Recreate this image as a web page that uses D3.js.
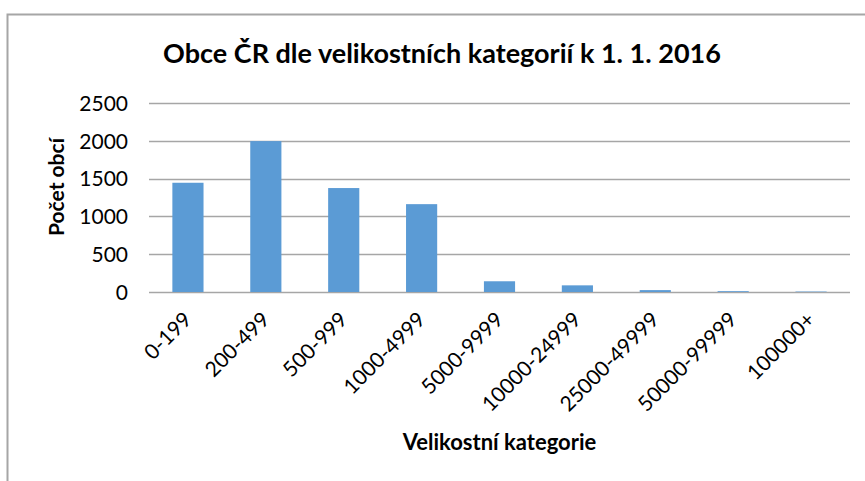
<!DOCTYPE html>
<html lang="cs">
<head>
<meta charset="UTF-8">
<title>Obce ČR</title>
<script src="https://d3js.org/d3.v7.min.js"></script>
<style>
  body { margin: 0; background: #fff; }
  text { font-family: Lato, Calibri, "Noto Sans", sans-serif; fill: #000; }
</style>
</head>
<body>
<svg id="main" width="865" height="481"></svg>
<script>
const categories = ['0-199', '200-499', '500-999', '1000-4999', '5000-9999',
  '10000-24999', '25000-49999', '50000-99999', '100000+'];
const counts = [1445, 1996, 1375, 1162, 142, 88, 25, 11, 6];
const yTicks = [0, 500, 1000, 1500, 2000, 2500];

const svg = d3.select('#main');
const m = {left: 149, right: 850, top: 103, bottom: 292};

// chart frame
svg.append('path')
  .attr('d', 'M7.5,481 V14.5 H865')
  .attr('fill', 'none').attr('stroke', '#a6a6a6').attr('stroke-width', 2);

const x = d3.scaleBand().domain(categories).range([m.left, m.right])
  .paddingInner(0.6).paddingOuter(0.3);
const y = d3.scaleLinear().domain([0, 2500]).range([m.bottom, m.top]);

// gridlines
svg.append('g').selectAll('line').data(yTicks).join('line')
  .attr('x1', m.left).attr('x2', m.right)
  .attr('y1', d => Math.round(y(d)) + 0.5).attr('y2', d => Math.round(y(d)) + 0.5)
  .attr('stroke', '#a6a6a6').attr('stroke-width', 1.3);

// bars
svg.append('g').selectAll('rect').data(counts).join('rect')
  .attr('x', (d, i) => x(categories[i]))
  .attr('width', x.bandwidth())
  .attr('y', d => y(d))
  .attr('height', d => y(0) - y(d))
  .attr('fill', '#5b9bd5');

// y axis labels
const yAxis = svg.append('g').attr('transform', `translate(${m.left},0)`)
  .call(d3.axisLeft(y).tickValues(yTicks).tickFormat(d3.format('d')).tickSize(0).tickPadding(21));
yAxis.select('.domain').remove();
yAxis.selectAll('text').style('font-size', '21px').style('font-family', 'Lato, sans-serif').attr('dy', '0.35em');

// x axis labels
svg.append('g').selectAll('text').data(categories).join('text')
  .attr('text-anchor', 'end')
  .attr('transform', d => `translate(${x(d) + x.bandwidth() / 2 + 5},${m.bottom + 29}) rotate(-45)`)
  .style('font-size', '21px')
  .text(d => d);

// title
svg.append('text').attr('x', 442).attr('y', 63).attr('text-anchor', 'middle')
  .style('font-size', '27px').style('font-weight', 'bold')
  .text('Obce ČR dle velikostních kategorií k 1. 1. 2016');

// axis titles
svg.append('text').attr('transform', 'translate(64,187) rotate(-90)')
  .attr('text-anchor', 'middle').style('font-size', '21px').style('font-weight', 'bold')
  .text('Počet obcí');
svg.append('text').attr('x', (m.left + m.right) / 2).attr('y', 450)
  .attr('text-anchor', 'middle').style('font-size', '22px').style('font-weight', 'bold')
  .text('Velikostní kategorie');
</script>
</body>
</html>
